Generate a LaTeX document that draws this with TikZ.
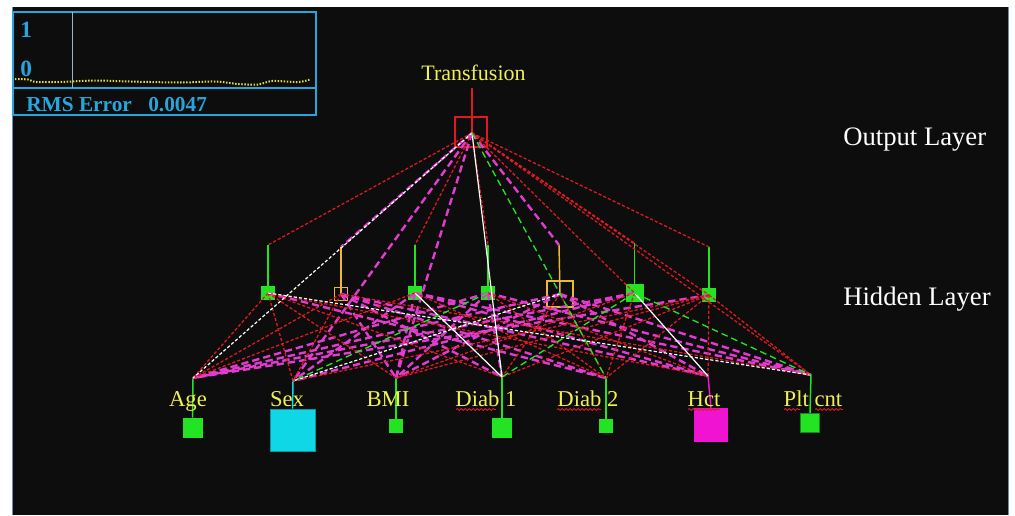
\documentclass[tikz,border=0pt]{standalone}
\usepackage{fontspec}
\setmainfont{Liberation Serif}
\usetikzlibrary{decorations.pathmorphing}
\definecolor{bgc}{RGB}{13,13,13}
\definecolor{nred}{RGB}{225,25,35}
\definecolor{nmag}{RGB}{225,60,205}
\definecolor{ngrn}{RGB}{35,228,35}
\definecolor{nyel}{RGB}{235,185,50}
\definecolor{ncyan}{RGB}{15,215,230}
\definecolor{nhct}{RGB}{240,20,210}
\definecolor{ptxt}{RGB}{40,165,220}
\definecolor{plin}{RGB}{150,180,210}
\definecolor{lbl}{RGB}{240,240,80}
\definecolor{dotc}{RGB}{230,220,60}
\definecolor{edge}{RGB}{110,140,180}
\begin{document}
\begin{tikzpicture}[x=0.75pt,y=-0.75pt,
  lnred/.style={nred,line width=0.95pt,dash pattern=on 2.4pt off 1.5pt},
  lnmag/.style={nmag,line width=1.8pt,dash pattern=on 5.5pt off 3pt},
  lnwhd/.style={white,line width=0.9pt,dash pattern=on 2.4pt off 1.5pt},
  lnwhs/.style={white,line width=0.9pt},
  lngrn/.style={ngrn,line width=1pt,dash pattern=on 5pt off 3pt},
  hfill/.style={fill=ngrn,draw=none,inner sep=0pt,minimum size=#1},
  hbox/.style={draw=nyel,line width=1.4pt,inner sep=0pt,minimum size=#1},
  stemg/.style={ngrn,line width=1.1pt},
  stemy/.style={nyel,line width=1.1pt},
  inlbl/.style={text=lbl,font=\fontsize{17}{19}\selectfont,anchor=base,inner sep=0pt},
  laylbl/.style={text=white,font=\fontsize{20}{22}\selectfont,anchor=base west,inner sep=0pt},
  ptext/.style={text=ptxt,font=\bfseries\fontsize{16}{18}\selectfont,anchor=base west,inner sep=0pt},
  pdig/.style={text=ptxt,font=\bfseries\fontsize{17.5}{19}\selectfont,anchor=base west,inner sep=0pt},
  squig/.style={nred,line width=0.6pt,decorate,decoration={snake,amplitude=0.7pt,segment length=3pt}}
]
\useasboundingbox (0,0) rectangle (1015,515);
\fill[white] (0,0) rectangle (1015,515);
\fill[bgc] (12,7) rectangle (1009,515);
\draw[edge,line width=1pt] (12.5,7) -- (12.5,515);
\draw[edge,line width=1pt] (1008.5,7) -- (1008.5,515);

% ---- error panel ----
\draw[ptxt,line width=1.5pt] (13,12) rectangle (316,115);
\draw[ptxt,line width=1.5pt] (13,88) -- (316,88);
\draw[plin,line width=0.6pt] (72.7,12) -- (72.7,88);
\draw[dotc,line width=1.5pt,dash pattern=on 1.1pt off 1.2pt] plot[smooth] coordinates
  {(15,79) (28,79.5) (36,82) (60,82) (95,80.5) (130,81.5) (180,82.5) (215,81.5) (238,84) (258,84.5) (272,81) (298,82) (310,79.5)};
\node[pdig] (one) at (20,37) {1};
\node[pdig] (zero) at (20,76) {0};
\node[ptext] (rms) at (26,111.5) {RMS Error};
\node[ptext] (rmsv) at (148,111.5) {0.0047};

% ---- layer labels ----
\node[laylbl] (outl) at (843,145) {Output Layer};
\node[laylbl] (hidl) at (843,305) {Hidden Layer};

% ---- output node ----
\node[text=lbl,font=\fontsize{16.5}{18}\selectfont,anchor=base,inner sep=0pt] (tr) at (473.5,80.5) {Transfusion};
\coordinate (otop) at (472,88);
\coordinate (O) at (472,133);
\node[draw=nred,line width=1.6pt,inner sep=0pt,minimum width=24pt,minimum height=22.5pt] (obox) at (471,132) {};
\draw[nred,line width=1.2pt] (otop) -- (O);

% ---- hidden layer ----
\coordinate (t1) at (268,245);
\coordinate (t2) at (341,247);
\coordinate (t3) at (415,245);
\coordinate (t4) at (488,245);
\coordinate (t5) at (559,245);
\coordinate (t6) at (634.5,243);
\coordinate (t7) at (709,247);
\node[hfill=10.5pt] (h1) at (268,293) {};
\node[hbox=9.8pt] (h2) at (341,294) {};
\node[hfill=10.5pt] (h3) at (415,293) {};
\node[hfill=10.5pt] (h4) at (488,293) {};
\node[hbox=19.5pt] (h5) at (560,294) {};
\node[hfill=13.5pt] (h6) at (634.5,293) {};
\node[hfill=10.5pt] (h7) at (709,295) {};
\draw[stemg] (t1) -- (h1.north);
\draw[stemy] (t2) -- (h2.center);
\draw[stemg] (t3) -- (h3.north);
\draw[stemg] (t4) -- (h4.north);
\draw[stemy] (t5) -- (h5.center);
\draw[stemg] (t6) -- (h6.north);
\draw[stemg] (t7) -- (h7.north);

% ---- input layer ----
\coordinate (a1) at (193,378);
\coordinate (a2) at (293,381);
\coordinate (a3) at (396,378);
\coordinate (a4) at (502,377);
\coordinate (a5) at (606,378);
\coordinate (a6) at (708,376);
\coordinate (a7) at (811,375);
\node[fill=ngrn,inner sep=0pt,minimum size=15pt] (s1) at (192.5,428) {};
\node[fill=ncyan,draw=ncyan!70!black,line width=0.4pt,inner sep=0pt,minimum width=34pt,minimum height=31.5pt] (s2) at (292.5,430) {};
\node[fill=ngrn,inner sep=0pt,minimum size=10.5pt] (s3) at (396,426) {};
\node[fill=ngrn,inner sep=0pt,minimum size=14.5pt] (s4) at (502,428) {};
\node[fill=ngrn,inner sep=0pt,minimum size=10.5pt] (s5) at (606,426) {};
\node[fill=nhct,inner sep=0pt,minimum size=25.5pt] (s6) at (711,425) {};
\node[fill=ngrn,draw=ngrn!60!black,line width=0.4pt,inner sep=0pt,minimum size=14.5pt] (s7) at (810,423) {};
\draw[stemg] (a1) -- (s1.north);
\draw[ncyan,line width=1.1pt] (a2) -- (s2.north);
\draw[stemg] (a3) -- (s3.north);
\draw[stemg] (a4) -- (s4.north);
\draw[stemg] (a5) -- (s5.north);
\draw[nhct,line width=1.1pt] (a6) -- (s6.north);
\draw[stemg] (a7) -- (s7.north);

% ---- connections: magenta first ----
\foreach \h/\i in {1/5,2/3,2/4,2/5,2/6,3/2,3/3,3/6,3/7,4/1,4/3,4/4,4/7,5/1,5/3,5/6,5/7,6/1,6/2,7/1}
  \draw[lnmag] (h\h.center) -- (a\i);
\draw[lnmag] (O) -- (t2);
\draw[lnmag] (O) -- (t5);
\draw[lnmag] (O) -- (a2);
\draw[lnmag] (O) -- (a3);
% red
\foreach \h/\i in {1/1,1/2,1/3,1/4,1/6,2/1,2/2,2/7,3/1,3/5,4/5,4/6,5/4,5/5,6/3,6/5,7/2,7/3,7/4,7/5,7/6,7/7}
  \draw[lnred] (h\h.center) -- (a\i);
\draw[lnred] (O) -- (t1);
\draw[lnred] (O) -- (t3);
\draw[lnred] (O) -- (t4);
\draw[lnred] (O) -- (t6);
\draw[lnred] (O) -- (t7);
\draw[lnred] (O) -- (h6.center);
\draw[lnred] (O) -- (h7.center);
\draw[lnred] (O) -- (a7);
% white and green
\draw[lnwhd] (h1.center) -- (a7);
\draw[lnwhd] (h5.center) -- (a2);
\draw[lnwhs] (h3.center) -- (a4);
\draw[lnwhs] (h6.center) -- (a6);
\draw[lngrn] (h4.center) -- (a2);
\draw[lngrn] (h6.center) -- (a4);
\draw[lngrn] (h6.center) -- (a7);
\draw[lnwhd] (O) -- (a1);
\draw[lnwhs] (O) -- (a4);
\draw[lngrn] (O) -- (a5);

% ---- input labels ----
\node[inlbl] (lage) at (188,406) {Age};
\node[inlbl] (lsex) at (287,406) {Sex};
\node[inlbl] (lbmi) at (388,406) {BMI};
\node[inlbl] (ld1) at (486,406) {Diab 1};
\node[inlbl] (ld2) at (588,406) {Diab 2};
\node[inlbl] (lhct) at (704,406) {Hct};
\node[inlbl] (lplt) at (813,406) {Plt cnt};
\draw[squig] (456,409.5) -- (496,409.5);
\draw[squig] (557,409.5) -- (601,409.5);
\draw[squig] (688,409.5) -- (720,409.5);
\draw[squig] (784,409.5) -- (800,409.5);
\draw[squig] (815,409.5) -- (843,409.5);
\end{tikzpicture}
\end{document}
